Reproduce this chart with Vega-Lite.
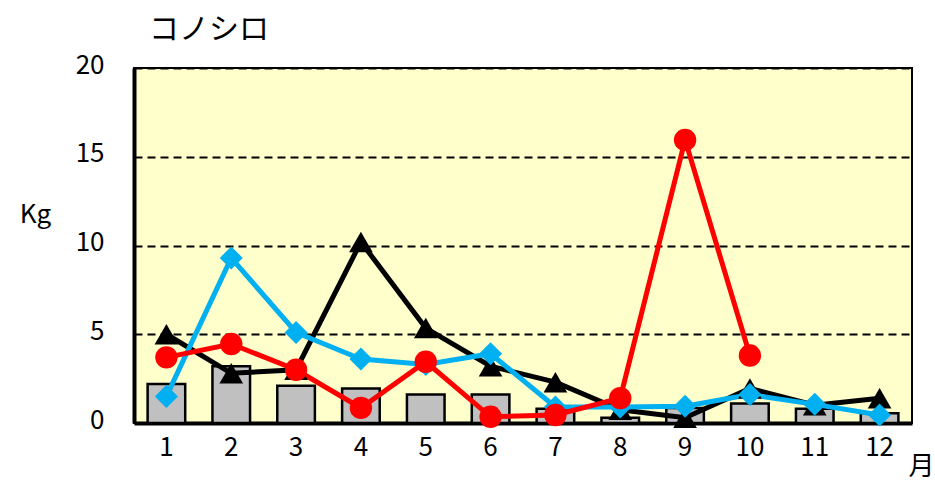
{
  "$schema": "https://vega.github.io/schema/vega-lite/v6.json",
  "width": 778,
  "height": 355,
  "autosize": {"type": "none"},
  "padding": {"left": 134, "top": 68, "right": 23, "bottom": 58},
  "background": "white",
  "config": {
    "view": {"fill": "#FFFFCC", "stroke": "black", "strokeWidth": 2},
    "font": "Noto Sans CJK JP"
  },
  "title": {
    "text": "コノシロ",
    "anchor": "start",
    "frame": "group",
    "dx": 15,
    "offset": 7,
    "fontSize": 30,
    "fontWeight": "normal",
    "font": "Noto Sans CJK JP",
    "color": "black"
  },
  "datasets": {
    "bars": [
      {"month": "1", "value": 2.2},
      {"month": "2", "value": 3.2},
      {"month": "3", "value": 2.1},
      {"month": "4", "value": 1.95},
      {"month": "5", "value": 1.6},
      {"month": "6", "value": 1.6},
      {"month": "7", "value": 0.8},
      {"month": "8", "value": 0.3},
      {"month": "9", "value": 0.85},
      {"month": "10", "value": 1.1},
      {"month": "11", "value": 0.8},
      {"month": "12", "value": 0.55}
    ],
    "lines": [
      {"month": "1", "series": "A", "value": 5.0},
      {"month": "2", "series": "A", "value": 2.8},
      {"month": "3", "series": "A", "value": 3.0},
      {"month": "4", "series": "A", "value": 10.2},
      {"month": "5", "series": "A", "value": 5.35},
      {"month": "6", "series": "A", "value": 3.2},
      {"month": "7", "series": "A", "value": 2.3},
      {"month": "8", "series": "A", "value": 0.75},
      {"month": "9", "series": "A", "value": 0.3},
      {"month": "10", "series": "A", "value": 1.95},
      {"month": "11", "series": "A", "value": 1.0},
      {"month": "12", "series": "A", "value": 1.4},
      {"month": "1", "series": "B", "value": 1.5},
      {"month": "2", "series": "B", "value": 9.3},
      {"month": "3", "series": "B", "value": 5.1},
      {"month": "4", "series": "B", "value": 3.6},
      {"month": "5", "series": "B", "value": 3.3},
      {"month": "6", "series": "B", "value": 3.9},
      {"month": "7", "series": "B", "value": 0.9},
      {"month": "8", "series": "B", "value": 0.9},
      {"month": "9", "series": "B", "value": 0.95},
      {"month": "10", "series": "B", "value": 1.6},
      {"month": "11", "series": "B", "value": 1.05},
      {"month": "12", "series": "B", "value": 0.45},
      {"month": "1", "series": "C", "value": 3.7},
      {"month": "2", "series": "C", "value": 4.45},
      {"month": "3", "series": "C", "value": 3.0},
      {"month": "4", "series": "C", "value": 0.85},
      {"month": "5", "series": "C", "value": 3.45},
      {"month": "6", "series": "C", "value": 0.35},
      {"month": "7", "series": "C", "value": 0.45},
      {"month": "8", "series": "C", "value": 1.4},
      {"month": "9", "series": "C", "value": 15.95},
      {"month": "10", "series": "C", "value": 3.8}
    ]
  },
  "encoding": {
    "x": {
      "field": "month",
      "type": "ordinal",
      "sort": ["1","2","3","4","5","6","7","8","9","10","11","12"],
      "scale": {"paddingInner": 0.42, "paddingOuter": 0.21},
      "axis": {
        "title": "月",
        "titleAngle": 0,
        "titleX": 787,
        "titleY": 43,
        "titleBaseline": "middle",
        "titleFont": "Noto Sans CJK JP",
        "titleFontSize": 26,
        "titleFontWeight": "normal",
        "titleColor": "black",
        "labelAngle": 0,
        "labelFont": "Noto Sans CJK JP",
        "labelFontSize": 26,
        "labelColor": "black",
        "labelPadding": 11,
        "ticks": false,
        "domainColor": "black",
        "domainWidth": 4,
        "grid": false
      }
    },
    "y": {
      "field": "value",
      "type": "quantitative",
      "scale": {"domain": [0, 20], "nice": false, "zero": true},
      "axis": {
        "title": "Kg",
        "titleAngle": 0,
        "titleX": -99,
        "titleY": 146,
        "titleFont": "Noto Sans CJK JP",
        "titleAlign": "center",
        "titleBaseline": "middle",
        "titleFontSize": 26,
        "titleFontWeight": "normal",
        "titleColor": "black",
        "values": [0, 5, 10, 15, 20],
        "labelFont": "Noto Sans CJK JP",
        "labelFontSize": 26,
        "labelColor": "black",
        "labelPadding": 30,
        "labelOffset": -3,
        "ticks": false,
        "domainColor": "black",
        "domainWidth": 4,
        "grid": true,
        "gridColor": "black",
        "gridWidth": 2,
        "gridDash": [8, 5],
        "gridOpacity": 1
      }
    }
  },
  "layer": [
    {
      "data": {"name": "bars"},
      "mark": {"type": "bar", "fill": "#C0C0C0", "stroke": "black", "strokeWidth": 2.5}
    },
    {
      "data": {"name": "lines"},
      "mark": {"type": "line", "strokeWidth": 5},
      "encoding": {
        "color": {
          "field": "series",
          "type": "nominal",
          "scale": {"domain": ["A", "B", "C"], "range": ["black", "#00B0F0", "#FF0000"]},
          "legend": null
        },
        "order": {"field": "series"}
      }
    },
    {
      "data": {"name": "lines"},
      "mark": {"type": "point", "filled": true, "opacity": 1},
      "encoding": {
        "color": {
          "field": "series",
          "type": "nominal",
          "scale": {"domain": ["A", "B", "C"], "range": ["black", "#00B0F0", "#FF0000"]},
          "legend": null
        },
        "shape": {
          "field": "series",
          "type": "nominal",
          "scale": {"domain": ["A", "B", "C"], "range": ["triangle-up", "diamond", "circle"]},
          "legend": null
        },
        "size": {
          "field": "series",
          "type": "nominal",
          "scale": {"domain": ["A", "B", "C"], "range": [560, 500, 480]},
          "legend": null
        }
      }
    }
  ]
}
